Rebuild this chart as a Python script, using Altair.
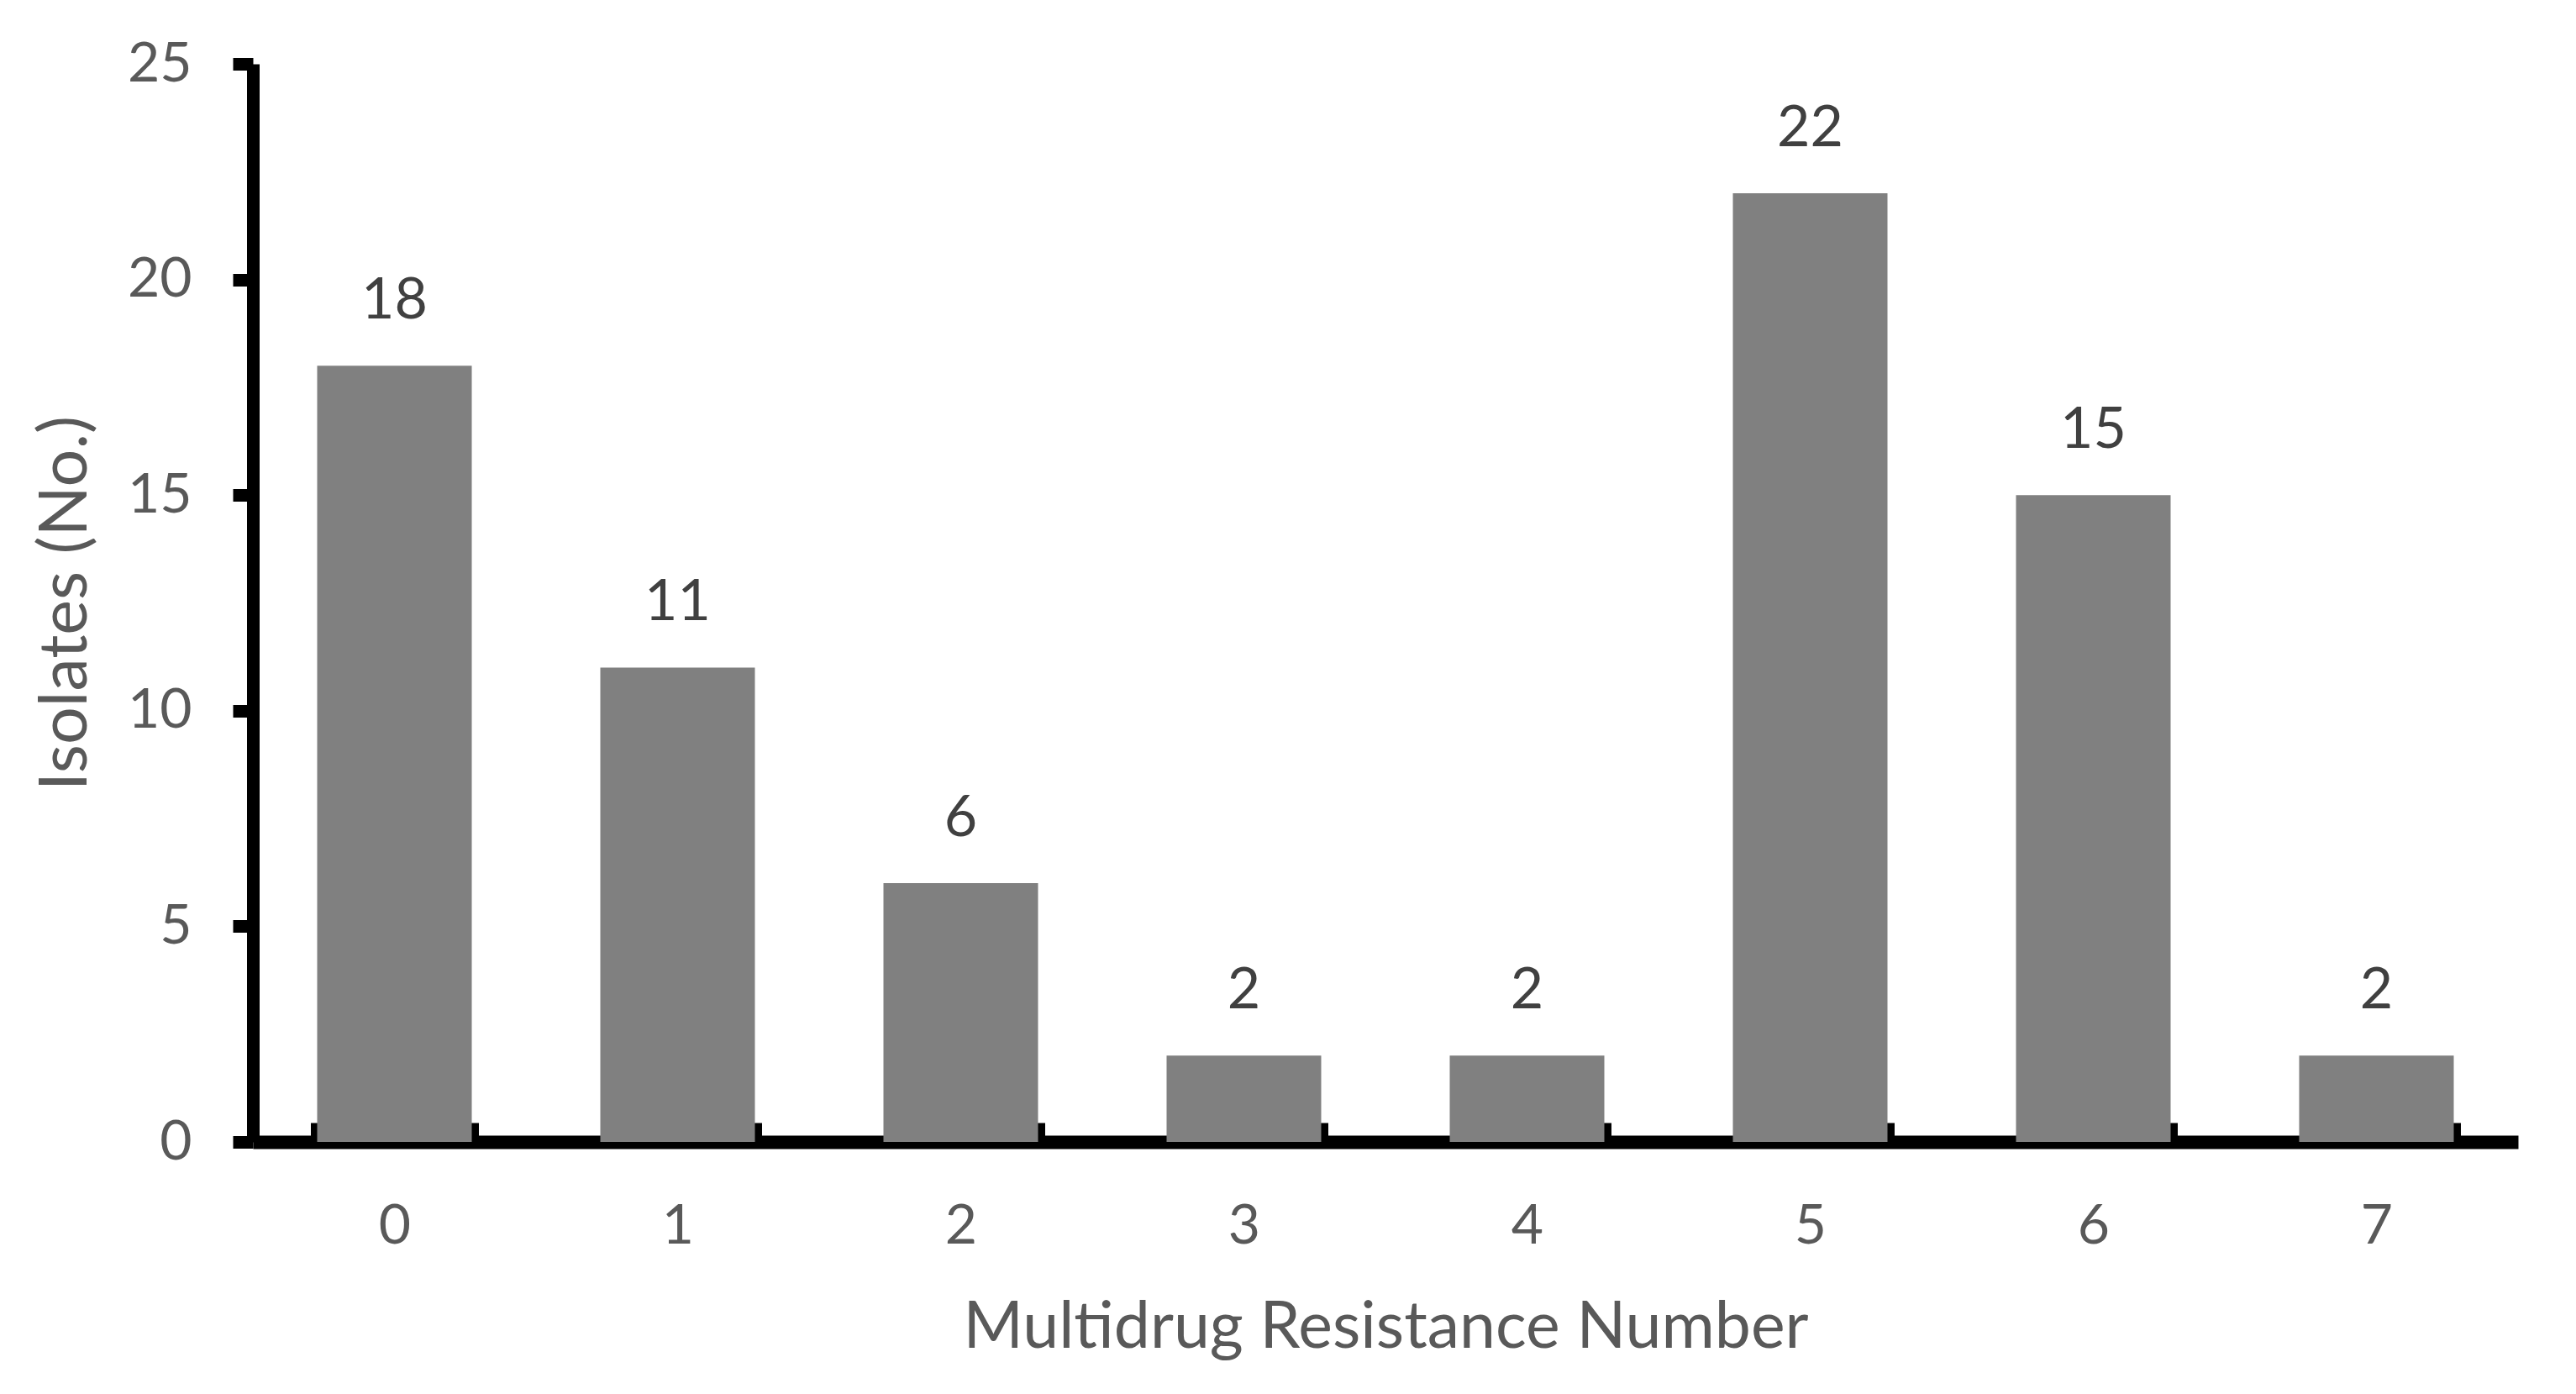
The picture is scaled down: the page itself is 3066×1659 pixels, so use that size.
import altair as alt
import pandas as pd

categories = ["0", "1", "2", "3", "4", "5", "6", "7"]
isolates = [18, 11, 6, 2, 2, 22, 15, 2]
y_ticks = [0, 5, 10, 15, 20, 25]

df = pd.DataFrame({"mdr": categories, "count": isolates})

FONT = "Lato"

x_enc = alt.X(
    "mdr:N",
    sort=categories,
    title="Multidrug Resistance Number",
    scale=alt.Scale(paddingInner=0.454, paddingOuter=0.227),
    axis=alt.Axis(
        labelAngle=0,
        labelFont=FONT,
        labelFontSize=66,
        labelColor="#595959",
        labelPadding=91,
        titleFont=FONT,
        titleFontSize=77,
        titleFontWeight="normal",
        titleColor="#595959",
        titlePadding=50,
        domainColor="black",
        domainWidth=16,
        tickColor="black",
        tickWidth=15,
        tickSize=alt.ExprRef(expr="-23"),
        tickBand="extent",
        grid=False,
    ),
)

y_enc = alt.Y(
    "count:Q",
    title="Isolates (No.)",
    scale=alt.Scale(domain=[0, 25], nice=False),
    axis=alt.Axis(
        values=y_ticks,
        labelFont=FONT,
        labelFontSize=66,
        labelColor="#595959",
        labelPadding=49,
        titleFont=FONT,
        titleFontSize=79,
        titleFontWeight="normal",
        titleColor="#595959",
        titlePadding=32,
        domainColor="black",
        domainWidth=15,
        tickColor="black",
        tickWidth=15,
        tickSize=24,
        grid=False,
    ),
)

bars = alt.Chart(df).mark_bar(color="#808080").encode(x=x_enc, y=y_enc)

labels = alt.Chart(df).mark_text(
    font=FONT,
    fontSize=68,
    color="#404040",
    baseline="alphabetic",
    dy=-56,
).encode(
    x=alt.X("mdr:N", sort=categories),
    y=alt.Y("count:Q"),
    text=alt.Text("count:Q"),
)

chart = (
    alt.layer(bars, labels)
    .properties(
        width=2696,
        height=1283,
        padding={"left": 293, "top": 68, "right": 60, "bottom": 290},
        autosize=alt.AutoSizeParams(type="none"),
        view=alt.ViewBackground(stroke="transparent", strokeWidth=0),
    )
    .configure_view(strokeWidth=0, stroke="transparent")
    .configure(background="white")
)

chart.save("out.html", embed_options={"renderer": "svg", "actions": False})
